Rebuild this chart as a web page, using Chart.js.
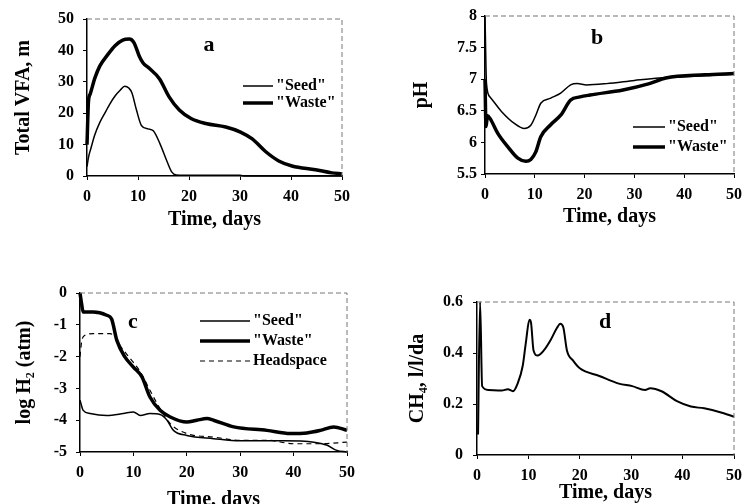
<!DOCTYPE html>
<html>
<head>
<meta charset="utf-8">
<script src="https://cdn.jsdelivr.net/npm/chart.js@4"></script>
<style>
  body { margin: 0; background: #fff; }
  #wrap { position: relative; width: 749px; height: 504px; overflow: hidden; }
  canvas { position: absolute; }
</style>
</head>
<body>
<div id="wrap">
  <canvas id="chart-a" width="375" height="240" style="left:0;top:0"></canvas>
  <canvas id="chart-b" width="374" height="240" style="left:375px;top:0"></canvas>
  <canvas id="chart-c" width="375" height="270" style="left:0;top:250px"></canvas>
  <canvas id="chart-d" width="374" height="270" style="left:375px;top:250px"></canvas>
</div>
<script>
// panel a - total VFA
const vfaSeedTime = [0, 0.3, 0.8, 1.5, 2.5, 3.5, 4.5, 5.5, 6.5, 7.4, 8.2, 8.8, 9.7, 10.7, 12, 13, 14.3, 15.6, 16.6, 17.5, 19, 30, 31, 50]
const vfaSeed = [3, 6, 9, 13, 17, 20, 23, 25.5, 27.3, 28.6, 28, 26.5, 21, 16, 15, 14.4, 10.3, 5, 1.3, 0.3, 0.2, 0.2, 0, 0]
const vfaWasteTime = [0, 0.3, 0.6, 1.5, 2.5, 4, 5.5, 7, 8.3, 9.2, 10.3, 11, 12.2, 14.2, 16.1, 18.1, 20.4, 23.3, 27.2, 30.1, 32.4, 35, 37.6, 40.2, 44.8, 48, 50]
const vfaWaste = [10, 24, 26, 31, 35, 38.5, 41.5, 43.3, 43.6, 42.5, 38, 36, 34.3, 31, 25.2, 21, 18.3, 16.7, 15.6, 14, 11.8, 7.8, 4.8, 3.2, 2, 1, 0.7]

// panel b - pH
const phSeedTime = [0, 0.3, 1, 3.3, 5.9, 7.9, 9.2, 10.2, 11.2, 13.2, 15.2, 17.2, 18.5, 20.4, 24.4, 30, 35, 40, 45, 50]
const phSeed = [8, 6.93, 6.72, 6.49, 6.3, 6.22, 6.27, 6.43, 6.62, 6.7, 6.78, 6.91, 6.93, 6.91, 6.93, 6.98, 7.02, 7.04, 7.06, 7.08]
const phWasteTime = [0, 0.2, 0.5, 1, 2.6, 4.6, 6.6, 8.2, 9.2, 10.2, 11.2, 13.2, 15.2, 17.2, 19.1, 21.1, 27.7, 33, 36.3, 44.2, 50]
const phWaste = [7, 6.25, 6.42, 6.38, 6.14, 5.93, 5.75, 5.7, 5.73, 5.85, 6.09, 6.28, 6.43, 6.67, 6.72, 6.75, 6.83, 6.93, 7.02, 7.07, 7.09]

// panel c - log H2
const h2SeedTime = [0, 0.6, 1.9, 5, 8.1, 10, 11.3, 13.1, 15, 16.3, 17.5, 20, 25, 30, 38, 43.8, 46.3, 48.1, 50]
const h2Seed = [-3.37, -3.69, -3.79, -3.85, -3.79, -3.74, -3.85, -3.79, -3.82, -4.0, -4.32, -4.48, -4.58, -4.65, -4.65, -4.69, -4.79, -4.95, -5.0]
const h2WasteTime = [0, 0.3, 0.6, 2.5, 5, 5.9, 6.9, 8.4, 10, 11.6, 13.1, 15, 16.9, 20, 21.9, 23.8, 25, 28.8, 35, 39.4, 42.5, 45, 47.5, 50]
const h2Waste = [0, -0.34, -0.6, -0.6, -0.7, -0.81, -1.49, -2.01, -2.33, -2.64, -3.27, -3.69, -3.9, -4.06, -4.0, -3.95, -4.0, -4.21, -4.32, -4.42, -4.4, -4.32, -4.21, -4.32]
const h2HeadTime = [0, 0.3, 0.9, 2.5, 5.6, 6.6, 7.5, 9.4, 11.3, 13.1, 15, 16.9, 20, 25, 30, 35, 40, 45, 50]
const h2Head = [-2.0, -1.54, -1.33, -1.28, -1.28, -1.38, -1.65, -2.06, -2.48, -3.06, -3.64, -4.11, -4.42, -4.53, -4.63, -4.63, -4.74, -4.74, -4.69]

// panel d - CH4
const ch4Time = [0.2, 0.6, 1, 2.2, 4.8, 6, 7, 7.9, 8.9, 9.5, 10.2, 10.5, 11, 11.8, 13, 14.3, 15.6, 16.2, 16.8, 17.5, 18.7, 20, 23.8, 27.6, 30.2, 32.7, 33.7, 35.9, 39, 41.6, 44.2, 48, 50]
const ch4 = [0.08, 0.6, 0.27, 0.255, 0.253, 0.258, 0.25, 0.28, 0.35, 0.44, 0.53, 0.52, 0.41, 0.39, 0.41, 0.45, 0.5, 0.515, 0.5, 0.41, 0.37, 0.34, 0.31, 0.28, 0.27, 0.255, 0.262, 0.25, 0.21, 0.19, 0.183, 0.164, 0.15]

const serif = "'Liberation Serif', 'DejaVu Serif', serif"

function zip(xs, ys) {
    return xs.map((x, i) => ({ x: x, y: ys[i] }))
}

function line(label, xs, ys, width, dash) {
    return {
        label: label,
        data: zip(xs, ys),
        borderColor: '#000',
        borderWidth: width,
        borderDash: dash || [],
        pointRadius: 0,
        cubicInterpolationMode: 'monotone',
        clip: 6,
    }
}

// dotted top/right frame, panel letter and the little legend inside the plot
const panelDecor = {
    id: 'panelDecor',
    afterDraw(chart, args, opts) {
        const ctx = chart.ctx
        const a = chart.chartArea
        ctx.save()
        ctx.strokeStyle = '#777'
        ctx.lineWidth = 1
        ctx.setLineDash([5, 3])
        ctx.beginPath()
        ctx.moveTo(a.left, a.top)
        ctx.lineTo(a.right, a.top)
        ctx.lineTo(a.right, a.bottom)
        ctx.stroke()
        ctx.setLineDash([])

        ctx.fillStyle = '#000'
        ctx.font = 'bold 22px ' + serif
        ctx.textAlign = 'center'
        ctx.textBaseline = 'middle'
        ctx.fillText(opts.letter, opts.letterX, opts.letterY)

        if (opts.legend) {
            const lg = opts.legend
            ctx.font = 'bold 16px ' + serif
            ctx.textAlign = 'left'
            chart.data.datasets.forEach((ds, i) => {
                const y = lg.y + i * lg.gap
                ctx.strokeStyle = '#000'
                ctx.lineWidth = ds.borderWidth
                ctx.setLineDash(ds.borderDash)
                ctx.beginPath()
                ctx.moveTo(lg.x, y)
                ctx.lineTo(lg.x + lg.len, y)
                ctx.stroke()
                ctx.setLineDash([])
                ctx.fillText(ds.label, lg.x + lg.len + 3, y)
            })
        }
        ctx.restore()
    }
}

function makePanel(id, cfg) {
    const canvas = document.querySelector(id)
    return new Chart(canvas.getContext('2d'), {
        type: 'line',
        data: { datasets: cfg.datasets },
        options: {
            responsive: false,
            animation: false,
            layout: { padding: cfg.padding },
            plugins: {
                legend: { display: false },
                tooltip: { enabled: false },
                panelDecor: cfg.decor,
            },
            scales: {
                x: {
                    type: 'linear',
                    min: 0,
                    max: 50,
                    afterFit: scale => { scale.height = cfg.xHeight },
                    border: { color: '#000', width: 1.5 },
                    grid: { drawOnChartArea: false, color: '#000', tickLength: 4 },
                    ticks: { stepSize: 10, padding: 7, color: '#000', font: { family: serif, size: 16, weight: 'bold' } },
                    title: { display: true, text: 'Time, days', color: '#000', padding: { top: 0, bottom: cfg.xTitlePad }, font: { family: serif, size: 20, weight: 'bold' } },
                },
                y: {
                    min: cfg.yMin,
                    max: cfg.yMax,
                    afterFit: scale => { scale.width = cfg.yWidth },
                    border: { color: '#000', width: 1.5 },
                    grid: { drawOnChartArea: false, color: '#000', tickLength: 4 },
                    ticks: { stepSize: cfg.yStep, padding: cfg.yTickPad, color: '#000', callback: v => String(parseFloat(v.toFixed(2))), font: { family: serif, size: 16, weight: 'bold' } },
                    title: { display: true, text: cfg.yTitle, color: '#000', padding: { top: cfg.yTitlePad, bottom: 0 }, font: { family: serif, size: 20, weight: 'bold' } },
                },
            },
        },
        plugins: [panelDecor],
    })
}

makePanel('#chart-a', {
    datasets: [
        line('"Seed"', vfaSeedTime, vfaSeed, 1.5),
        line('"Waste"', vfaWasteTime, vfaWaste, 3.5),
    ],
    padding: { left: 0, top: 19, right: 33, bottom: 0 },
    xHeight: 64, xTitlePad: 8,
    yWidth: 87, yTickPad: 9, yTitlePad: 12,
    yMin: 0, yMax: 50, yStep: 10, yTitle: 'Total VFA, m',
    decor: { letter: 'a', letterX: 209, letterY: 45, legend: { x: 243, y: 86, gap: 17, len: 30 } },
})

makePanel('#chart-b', {
    datasets: [
        line('"Seed"', phSeedTime, phSeed, 1.5),
        line('"Waste"', phWasteTime, phWaste, 3.5),
    ],
    padding: { left: 0, top: 16, right: 11, bottom: 0 },
    xHeight: 66, xTitlePad: 11,
    yWidth: 110, yTickPad: 4, yTitlePad: 35,
    yMin: 5.5, yMax: 8, yStep: 0.5, yTitle: 'pH',
    decor: { letter: 'b', letterX: 222, letterY: 38, legend: { x: 258, y: 127, gap: 20, len: 32 } },
})

makePanel('#chart-c', {
    datasets: [
        line('"Seed"', h2SeedTime, h2Seed, 1.5),
        line('"Waste"', h2WasteTime, h2Waste, 3.5),
        line('Headspace', h2HeadTime, h2Head, 1.2, [5, 4]),
    ],
    padding: { left: 0, top: 43, right: 28, bottom: 0 },
    xHeight: 68, xTitlePad: 8,
    yWidth: 80, yTickPad: 9, yTitlePad: 13,
    yMin: -5, yMax: 0, yStep: 1, yTitle: 'log H₂ (atm)',
    decor: { letter: 'c', letterX: 133, letterY: 72, legend: { x: 200, y: 71, gap: 20, len: 50 } },
})

makePanel('#chart-d', {
    datasets: [
        line('CH4', ch4Time, ch4, 2),
    ],
    padding: { left: 0, top: 52, right: 10, bottom: 0 },
    xHeight: 65, xTitlePad: 15,
    yWidth: 102, yTickPad: 10, yTitlePad: 31,
    yMin: 0, yMax: 0.6, yStep: 0.2, yTitle: 'CH₄, l/l/da',
    decor: { letter: 'd', letterX: 230, letterY: 72 },
})
</script>
</body>
</html>
